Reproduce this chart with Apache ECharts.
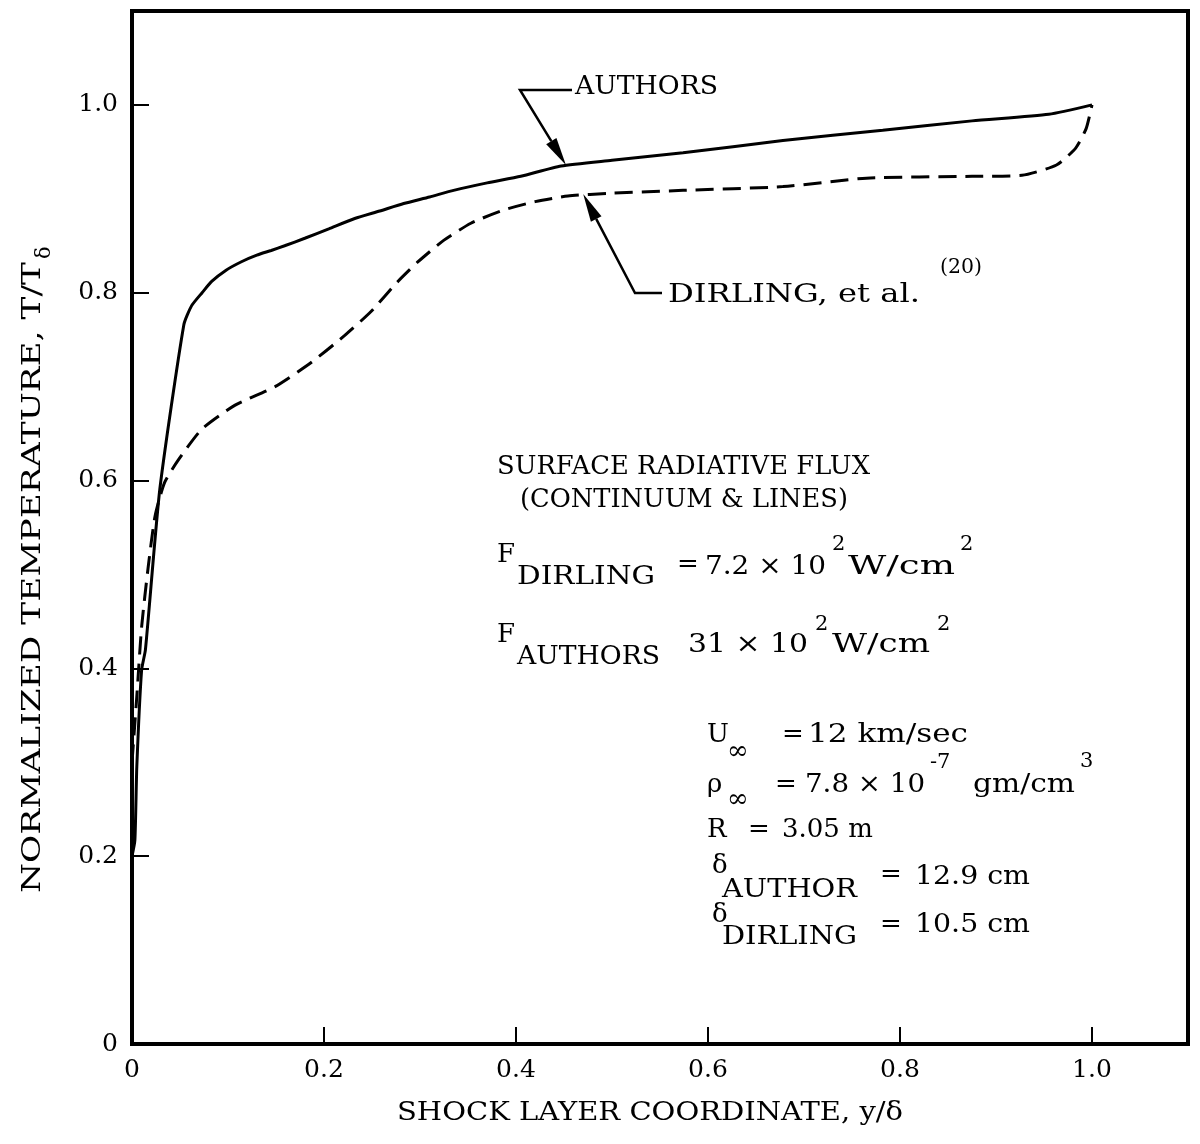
<!DOCTYPE html>
<html>
<head>
<meta charset="utf-8">
<title>Normalized temperature across the shock layer</title>
<script src="https://cdn.jsdelivr.net/npm/echarts@6/dist/echarts.min.js"></script>
<style>
  html, body { margin: 0; padding: 0; background: #fff; }
  #chart { width: 1200px; height: 1144px; }
</style>
</head>
<body>
<div id="chart"></div>
<script>
// values: y/delta vs T/T_delta
const authorsX = [0, 0.003, 0.005, 0.010, 0.014, 0.029, 0.054, 0.062, 0.073, 0.083, 0.098, 0.114, 0.130, 0.145, 0.159, 0.180, 0.205, 0.232, 0.258, 0.283, 0.310, 0.335, 0.370, 0.405, 0.447, 0.500, 0.574, 0.678, 0.782, 0.875, 0.955, 1.0]
const authorsT = [0.20, 0.217, 0.295, 0.398, 0.420, 0.591, 0.766, 0.786, 0.800, 0.812, 0.824, 0.833, 0.840, 0.845, 0.850, 0.858, 0.868, 0.879, 0.887, 0.895, 0.902, 0.909, 0.917, 0.924, 0.935, 0.941, 0.949, 0.962, 0.973, 0.983, 0.990, 1.0]

const dirlingX = [0, 0.005, 0.010, 0.017, 0.024, 0.034, 0.049, 0.073, 0.107, 0.149, 0.187, 0.221, 0.249, 0.277, 0.298, 0.325, 0.353, 0.387, 0.420, 0.454, 0.500, 0.574, 0.678, 0.765, 0.875, 0.927, 0.963, 0.983, 0.994, 1.0]
const dirlingT = [0.30, 0.37, 0.444, 0.509, 0.562, 0.598, 0.623, 0.655, 0.680, 0.700, 0.726, 0.754, 0.780, 0.812, 0.833, 0.856, 0.874, 0.888, 0.897, 0.903, 0.906, 0.909, 0.913, 0.922, 0.924, 0.925, 0.936, 0.954, 0.975, 1.0]

const axisMax = 1.1
const tickStep = 0.2

const FONT = "'DejaVu Serif', serif"
const FS = 26
const SUP = 21

// annotation text pieces: [text, left x, center y, size, width (optional stretch)]
const notes = [
  ['AUTHORS', 575, 87, FS, 143],
  ['DIRLING, et al.', 668, 295, FS, 252],
  ['(20)', 940, 268, SUP, 42],
  ['SURFACE RADIATIVE FLUX', 497, 467, FS, 373],
  ['(CONTINUUM & LINES)', 520, 500, FS, 328],
  ['F', 497, 555, FS], ['DIRLING', 517, 577, FS, 138], ['=', 677, 565, FS],
  ['7.2 \u00d7 10', 705, 567, FS, 121], ['2', 832, 545, SUP], ['W/cm', 848, 567, FS, 107], ['2', 960, 545, SUP],
  ['F', 497, 635, FS], ['AUTHORS', 517, 657, FS, 143],
  ['31 \u00d7 10', 688, 645, FS, 120], ['2', 815, 625, SUP], ['W/cm', 832, 645, FS, 98], ['2', 937, 625, SUP],
  ['U', 707, 735, FS], ['\u221e', 727, 752, FS], ['=', 782, 735, FS], ['12 km/sec', 808, 735, FS, 160],
  ['\u03c1', 707, 785, FS], ['\u221e', 727, 800, FS], ['=', 775, 785, FS],
  ['7.8 \u00d7 10', 805, 785, FS, 120], ['-7', 930, 763, SUP], ['gm/cm', 973, 785, FS, 102], ['3', 1080, 762, SUP],
  ['R', 707, 830, FS], ['=', 748, 830, FS], ['3.05 m', 782, 830, FS],
  ['\u03b4', 712, 866, FS], ['AUTHOR', 722, 890, FS, 135], ['=', 880, 875, FS], ['12.9 cm', 915, 877, FS, 115],
  ['\u03b4', 712, 915, FS], ['DIRLING', 722, 937, FS, 135], ['=', 880, 925, FS], ['10.5 cm', 915, 925, FS, 115]
]

const chart = echarts.init(document.getElementById('chart'))

const ctx = document.createElement('canvas').getContext('2d')
function textWidth(s, size) {
  ctx.font = size + 'px ' + FONT
  return ctx.measureText(s).width
}

function pairs(xs, ys) {
  return xs.map((x, i) => [x, ys[i]])
}

function tickLabel(v) {
  if (v > 1.05) return ''
  if (v === 0) return '0'
  return v.toFixed(1)
}

const axisCommon = {
  type: 'value',
  min: 0,
  max: axisMax,
  interval: tickStep,
  splitLine: { show: false },
  axisLine: { show: true, onZero: false, lineStyle: { color: '#000', width: 4 } },
  axisTick: { show: true, inside: true, length: 17, lineStyle: { color: '#000', width: 2 } },
  axisLabel: { color: '#000', fontFamily: FONT, fontSize: 25, formatter: tickLabel }
}

// stretched text: sx makes the run as long as in the scan
function label(s, x, y, size, width, align) {
  const sx = width ? width / textWidth(s, size) : 1
  return {
    type: 'text',
    x: x, y: y, scaleX: sx,
    style: {
      text: s, x: 0, y: 0,
      font: size + 'px ' + FONT,
      fill: '#000', textAlign: align || 'left', textVerticalAlign: 'middle'
    }
  }
}

const textEls = notes.map(n => label(n[0], n[1], n[2], n[3], n[4]))

chart.setOption({
  animation: false,
  backgroundColor: '#fff',
  grid: {
    left: 132, right: 12, top: 11, bottom: 100,
    show: true, borderColor: '#000', borderWidth: 4
  },
  xAxis: Object.assign({}, axisCommon, {
    axisLabel: Object.assign({}, axisCommon.axisLabel, { margin: 14 })
  }),
  yAxis: Object.assign({}, axisCommon, {
    axisLabel: Object.assign({}, axisCommon.axisLabel, { margin: 14 })
  }),
  series: [
    {
      name: 'AUTHORS',
      type: 'line',
      data: pairs(authorsX, authorsT),
      showSymbol: false,
      smooth: 0.2,
      lineStyle: { color: '#000', width: 3 }
    },
    {
      name: 'DIRLING, et al.',
      type: 'line',
      data: pairs(dirlingX, dirlingT),
      showSymbol: false,
      smooth: 0.2,
      lineStyle: { color: '#000', width: 3, type: [18, 9] }
    }
  ]
})

// arrows from the labels to the curves
function arrow(points) {
  const n = points.length
  const tip = points[n - 1]
  const from = points[n - 2]
  const dx = tip[0] - from[0], dy = tip[1] - from[1]
  const len = Math.sqrt(dx * dx + dy * dy)
  const ux = dx / len, uy = dy / len
  const bx = tip[0] - ux * 28, by = tip[1] - uy * 28
  const head = [tip, [bx - uy * 6, by + ux * 6], [bx + uy * 6, by - ux * 6]]
  const shaft = points.slice(0, n - 1).concat([[bx, by]])
  return [
    { type: 'polyline', shape: { points: shaft }, style: { stroke: '#000', lineWidth: 2.5, fill: null } },
    { type: 'polygon', shape: { points: head }, style: { fill: '#000' } }
  ]
}

const authorsTip = chart.convertToPixel({ gridIndex: 0 }, [0.452, 0.936])
const dirlingTip = chart.convertToPixel({ gridIndex: 0 }, [0.470, 0.905])

// y-axis title, drawn rotated so the subscript can sit beside it
const yTitle = 'NORMALIZED TEMPERATURE, T/T'
const yTitleLen = 631
const yScale = yTitleLen / textWidth(yTitle, FS)

const graphics = textEls
  .concat(arrow([[572, 90], [520, 90], authorsTip]))
  .concat(arrow([[662, 293], [635, 293], dirlingTip]))
  .concat([
    {
      type: 'group',
      x: 33, y: 893, rotation: Math.PI / 2,
      children: [
        { type: 'text', scaleX: yScale, style: { text: yTitle, x: 0, y: 0, font: FS + 'px ' + FONT, fill: '#000', textAlign: 'left', textVerticalAlign: 'middle' } },
        { type: 'text', style: { text: '\u03b4', x: yTitleLen + 3, y: 12, font: SUP + 'px ' + FONT, fill: '#000', textAlign: 'left', textVerticalAlign: 'middle' } }
      ]
    },
    label('SHOCK LAYER COORDINATE, y/\u03b4', 397, 1113, FS, 506)
  ])

chart.setOption({ graphic: graphics })
</script>
</body>
</html>
